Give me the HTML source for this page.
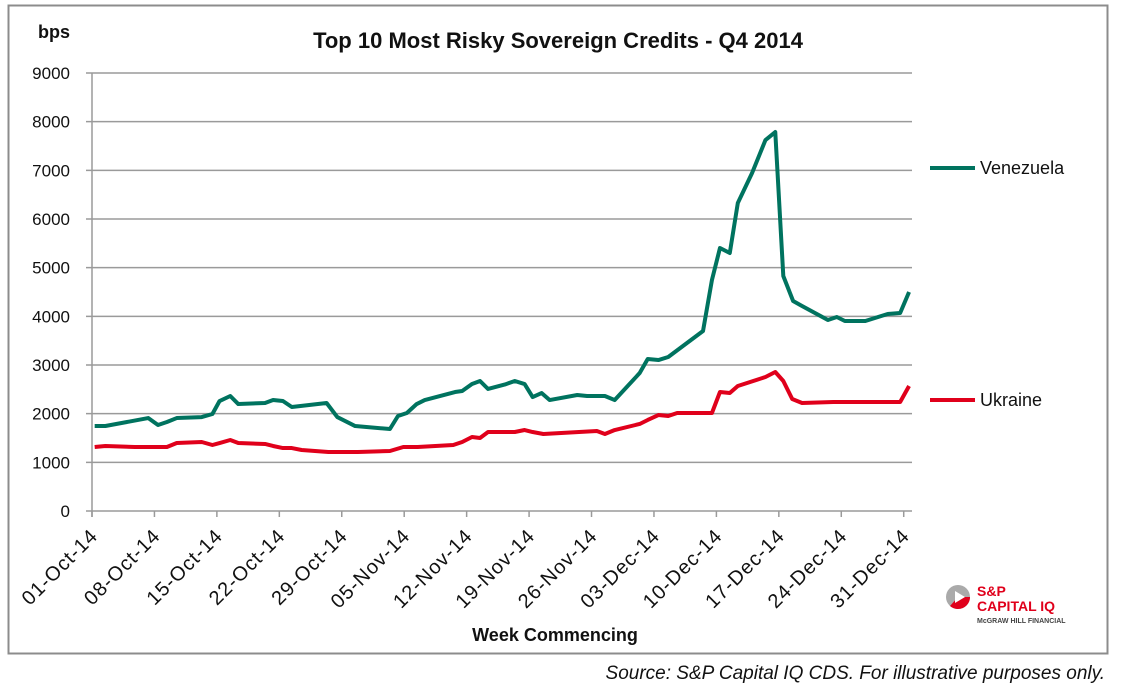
<!DOCTYPE html>
<html><head><meta charset="utf-8"><style>
body{margin:0;background:#fff;width:1121px;height:687px;overflow:hidden;font-family:"Liberation Sans",sans-serif}
</style></head><body>
<svg id="chart" width="1121" height="687" xmlns="http://www.w3.org/2000/svg">
<rect x="8.5" y="5.5" width="1099" height="648" fill="#fff" stroke="#8c8c8c" stroke-width="2"/>
<text x="558" y="48" text-anchor="middle" font-size="22" font-weight="bold" fill="#111">Top 10 Most Risky Sovereign Credits - Q4 2014</text>
<text x="38" y="38" font-size="18" font-weight="bold" fill="#111">bps</text>
<g id="grid"></g><g id="yticks"></g><g id="xticks"></g><g id="lines"></g>
<text x="555" y="641" text-anchor="middle" font-size="18" font-weight="bold" fill="#111">Week Commencing</text>
<g><line x1="930" y1="168" x2="975" y2="168" stroke="#00735f" stroke-width="4"/><text x="980" y="174" font-size="18" fill="#111">Venezuela</text></g>
<g><line x1="930" y1="400" x2="975" y2="400" stroke="#e0001b" stroke-width="4"/><text x="980" y="406" font-size="18" fill="#111">Ukraine</text></g>
<g>
<circle cx="958" cy="597" r="12" fill="#aaa"/><path d="M958 597 L970 597 A12 12 0 0 1 950 606 Z" fill="#e0001b"/><polygon points="955,591 965,597 955,603" fill="#fff"/>
<text x="977" y="596" font-size="14" font-weight="bold" fill="#e0001b">S&amp;P</text>
<text x="977" y="611" font-size="14" font-weight="bold" fill="#e0001b">CAPITAL IQ</text>
<text x="977" y="623" font-size="7" font-weight="bold" fill="#444">McGRAW HILL FINANCIAL</text>
</g>
<text x="1105" y="679" text-anchor="end" font-size="19" font-style="italic" fill="#111">Source: S&amp;P Capital IQ CDS. For illustrative purposes only.</text>
</svg>
<script>
const yTicks=[0,1000,2000,3000,4000,5000,6000,7000,8000,9000];
const xTickDays=[0,7,14,21,28,35,42,49,56,63,70,77,84,91];
const xTickLabels=["01-Oct-14","08-Oct-14","15-Oct-14","22-Oct-14","29-Oct-14","05-Nov-14","12-Nov-14","19-Nov-14","26-Nov-14","03-Dec-14","10-Dec-14","17-Dec-14","24-Dec-14","31-Dec-14"];
const venDays=[0.3,1.5,6.3,7.4,8.4,9.5,12.3,13.5,14.3,15.5,16.4,19.4,20.3,21.4,22.4,26.3,27.5,29.5,33.4,34.3,35.3,36.4,37.3,40.7,41.5,42.6,43.5,44.4,46.3,47.4,48.5,49.4,50.4,51.3,54.4,55.5,57.5,58.6,61.4,62.3,63.5,64.6,68.5,69.5,70.4,71.5,72.4,74.0,75.5,76.6,77.5,78.6,79.6,82.5,83.5,84.4,86.7,89.2,90.6,91.6];
const venVals=[1746,1746,1910,1767,1828,1910,1930,1993,2260,2363,2198,2219,2280,2260,2137,2219,1930,1746,1685,1952,2014,2198,2280,2445,2466,2609,2671,2507,2600,2671,2609,2342,2424,2280,2383,2363,2363,2280,2835,3123,3102,3164,3698,4746,5404,5301,6328,6945,7623,7787,4828,4315,4212,3924,3986,3904,3904,4048,4068,4500];
const ukrDays=[0.3,1.5,4.8,8.4,9.5,12.3,13.5,14.3,15.5,16.4,19.4,20.3,21.4,22.4,23.5,26.5,29.8,33.4,34.9,36.5,40.5,41.5,42.6,43.5,44.4,46.3,47.4,48.5,49.4,50.6,56.6,57.5,58.6,61.4,62.3,63.5,64.6,65.6,69.5,70.4,71.5,72.4,75.5,76.6,77.5,78.5,79.6,83.1,90.6,91.6];
const ukrVals=[1315,1336,1315,1315,1397,1418,1356,1397,1459,1397,1377,1336,1294,1294,1253,1212,1212,1233,1315,1315,1356,1418,1520,1500,1623,1623,1623,1664,1623,1582,1644,1582,1664,1788,1870,1972,1952,2014,2014,2445,2424,2568,2753,2856,2671,2301,2219,2240,2240,2568];
const NS="http://www.w3.org/2000/svg";
const X0=92,PXD=8.92,Y0=511,PXV=438/9000;
function xs(d){return X0+d*PXD;}
function ys(v){return Y0-v*PXV;}
function mk(tag,attrs,parent){const e=document.createElementNS(NS,tag);for(const k in attrs)e.setAttribute(k,attrs[k]);document.getElementById(parent).appendChild(e);return e;}
yTicks.forEach(v=>{
  const l=mk('line',{x1:X0-6,x2:912,y1:ys(v),y2:ys(v),stroke:'#9a9a9a','stroke-width':1.5},'grid');
  
  
  const t=mk('text',{x:70,y:ys(v)+6,'text-anchor':'end','font-size':17,fill:'#111'},'yticks');
  t.textContent=v;
  
  
});
const ax=mk('line',{x1:X0,x2:X0,y1:ys(9000),y2:Y0+6,stroke:'#9a9a9a','stroke-width':1.5},'grid');


xTickDays.forEach((d,i)=>{
  const x=xs(d);
  const tk=mk('line',{x1:x,x2:x,y1:Y0,y2:Y0+6,stroke:'#9a9a9a','stroke-width':1.5},'xticks');
  
  
  const bx=x+7,by=Y0+26;
  const t=mk('text',{x:bx,y:by,'text-anchor':'end','font-size':20,'letter-spacing':'1',fill:'#111',transform:`rotate(-45 ${bx} ${by})`},'xticks');
  t.textContent=xTickLabels[i];
  
  
});
function line(days,vals,color,name){
  const p=mk('polyline',{points:days.map((d,i)=>xs(d)+','+ys(vals[i])).join(' '),fill:'none',stroke:color,'stroke-width':4,'stroke-linejoin':'round'},'lines');
  
  
}
line(venDays,venVals,'#00735f','venezuela-line');
line(ukrDays,ukrVals,'#e0001b','ukraine-line');
</script>
</body></html>
